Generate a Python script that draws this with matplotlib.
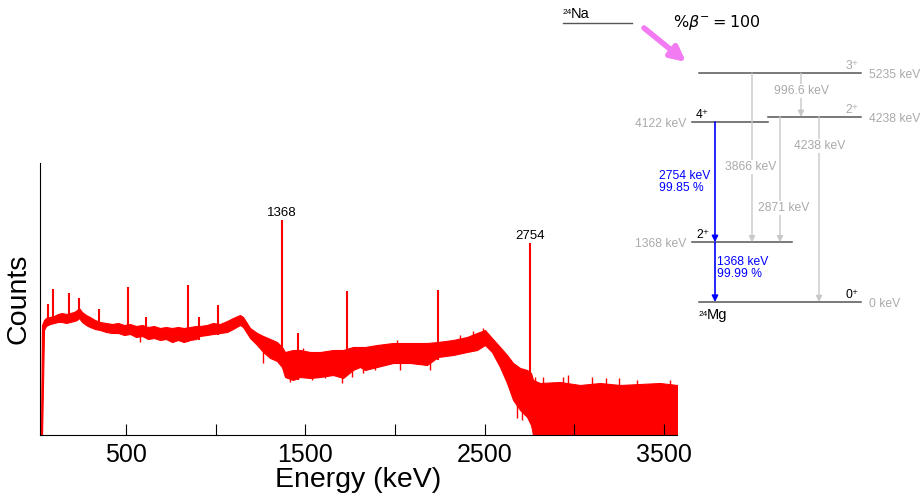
import matplotlib.pyplot as plt

plt.rcParams['font.family'] = ['Liberation Sans', 'DejaVu Sans']

# gamma spectrum of 24Na decay, counts in arbitrary units
# continuum band: energy (keV), upper and lower edge of the noisy band
cont_e = [26, 32, 43, 54, 76, 99, 121, 143, 166, 188, 211, 227, 238, 255,
          277, 299, 327, 355, 389, 423, 456, 490, 523, 556, 590, 623, 656,
          690, 723, 757, 790, 823, 857, 891, 912, 951, 985, 1024, 1064,
          1097, 1136, 1153, 1192, 1231, 1265, 1304, 1342, 1370, 1387, 1432,
          1471, 1527, 1583, 1655, 1711, 1766, 1805, 1833, 1900, 1990, 2085,
          2179, 2240, 2324, 2402, 2458, 2502, 2541, 2586, 2625, 2659, 2698,
          2737, 2759, 2770, 2809, 2921, 3032, 3144, 3255, 3367, 3478, 3573]
cont_hi = [0, 110, 115, 117, 118, 119, 121, 122, 121, 122, 123, 125, 127,
           123, 120, 118, 115, 113, 112, 111, 112, 110, 111, 109, 110, 108,
           109, 107, 108, 107, 108, 107, 108, 109, 109, 110, 112, 111, 114,
           117, 120, 118, 107, 102, 99, 96, 93, 88, 83, 85,
           85, 83, 83, 85, 85, 88, 88, 88, 90, 92, 92,
           92, 93, 95, 98, 102, 105, 97, 88, 80, 72, 67,
           65, 62, 55, 52, 53, 50, 52, 50, 51, 52, 50]
cont_lo = [0, 0, 105, 109, 111, 112, 113, 113, 112, 113, 114, 115, 117,
           113, 110, 108, 106, 105, 103, 102, 102, 100, 101, 98, 99, 96,
           97, 95, 96, 93, 95, 93, 95, 96, 99, 100, 101, 102, 103,
           106, 110, 108, 97, 90, 83, 77, 74, 68, 58, 55,
           58, 57, 58, 60, 57, 65, 68, 65, 68, 72, 72,
           70, 78, 80, 83, 85, 90, 83, 68, 52, 35, 25,
           18, 10, 0, 0, 0, 0, 0, 0, 0, 0, 0]

# short noise spikes sticking out of the band: energy, low and high end
noise_e = [579, 762, 818, 1264, 1415, 1538, 1610, 1705, 1761, 1822, 1888,
           2028, 2195, 2681, 2709, 2726, 1487, 2012, 2363, 2435, 2491, 2781,
           2826, 2937, 2965, 3099, 3177, 3250, 3350, 3534]
noise_lo = [93, 93, 93, 72, 53, 55, 57, 52, 58, 62, 65,
            65, 65, 17, 15, 20, 75, 80, 85, 90, 95, 40,
            40, 40, 40, 40, 40, 40, 40, 40]
noise_hi = [100, 100, 100, 90, 70, 70, 70, 70, 70, 75, 75,
            75, 75, 40, 40, 40, 87, 95, 100, 104, 107, 58,
            58, 58, 60, 58, 57, 57, 55, 55]

# single lines in the spectrum: energy, foot and top
peak_e = [67, 95, 184, 239, 351, 511, 612, 846, 908, 1013, 1368, 1459,
          1732, 2238, 2754]
peak_base = [112, 114, 113, 117, 110, 102, 100, 93, 95, 100, 70, 55,
             60, 75, 18]
peak_top = [131, 146, 142, 137, 126, 148, 118, 150, 118, 130, 215, 102,
            144, 145, 192]

label_e = [1368, 2754]
label_top = [215, 192]

xticks = [500, 1000, 1500, 2000, 2500, 3000, 3500]
xticklabels = ['500', '', '1500', '', '2500', '', '3500']

# decay scheme of 24Na -> 24Mg
lvl_e = [0, 1368, 4122, 4238, 5235]
lvl_spin = ['0⁺', '2⁺', '4⁺', '2⁺', '3⁺']
gamma_keV = ['996.6', '3866', '2871', '4238', '2754', '1368']
gamma_pct = ['99.85 %', '99.99 %']

W, H = 922, 499
fig = plt.figure(figsize=(W / 100, H / 100), dpi=100)

red = '#ff0000'
ax = fig.add_axes([40 / W, 1 - 435 / H, (677 - 40) / W, (435 - 163) / H])
ax.fill_between(cont_e, cont_lo, cont_hi, color=red, lw=0.8, edgecolor=red)
ax.vlines(noise_e, noise_lo, noise_hi, color=red, lw=1.0)
ax.vlines(peak_e, peak_base, peak_top, color=red, lw=1.5)
for e, t in zip(label_e, label_top):
    ax.text(e, t + 1, str(e), ha='center', va='bottom', fontsize=9.5)
ax.set_xlim(20.6, 3573)
ax.set_ylim(0, 272)
ax.set_xticks(xticks)
ax.set_xticklabels(xticklabels, fontsize=18)
ax.set_yticks([])
ax.tick_params(axis='x', direction='in', length=8, width=0.8, pad=6)
for s in ['top', 'right']:
    ax.spines[s].set_visible(False)
ax.set_xlabel('Energy (keV)', fontsize=20.5, labelpad=0)
ax.set_ylabel('Counts', fontsize=20.5, labelpad=6)

# overlay in pixel coordinates for the level scheme
ov = fig.add_axes([0, 0, 1, 1])
ov.set_xlim(0, W)
ov.set_ylim(H, 0)
ov.axis('off')


def ly(e):
    return 302 - e * 0.0437


gray_t = '#aaaaaa'
gray_l = '#555555'
gray_g = '#c8c8c8'
blue = '#0000ff'
fs = 8.7

# parent
ov.plot([563, 632], [23, 23], color=gray_l, lw=1)
ov.text(563, 16, '24', fontsize=6, va='bottom', ha='left')
ov.text(571, 21, 'Na', fontsize=10.5, va='bottom', ha='left')
ov.text(673, 22, r'$\%\beta^{-}=100$', fontsize=11.5, va='center',
        ha='left', family='DejaVu Sans')
ov.annotate('', xy=(686, 62), xytext=(644, 28),
            arrowprops=dict(arrowstyle='-|>', color='#f27af2', lw=4,
                            mutation_scale=22, shrinkA=0, shrinkB=0))

# levels: x extent of each line
lvl_x = [(699, 861), (692, 792), (692, 768), (768, 861), (699, 861)]
spin_col = ['black', 'black', 'black', gray_t, gray_t]
for i, e in enumerate(lvl_e):
    x0, x1 = lvl_x[i]
    y = ly(e)
    ov.plot([x0, x1], [y, y], color=gray_l, lw=1.1)
    if x1 >= 861:
        ov.text(x1 - 2, y - 1, lvl_spin[i], fontsize=fs, ha='right',
                va='bottom', color=spin_col[i])
        ov.text(869, y + 2, f'{e} keV', fontsize=fs, ha='left', va='center',
                color=gray_t)
    else:
        ov.text(x0 + 4, y - 1, lvl_spin[i], fontsize=fs, ha='left',
                va='bottom', color=spin_col[i])
        ov.text(x0 - 6, y + 2, f'{e} keV', fontsize=fs, ha='right',
                va='center', color=gray_t)

ov.text(699, 318, '24', fontsize=6, va='bottom', ha='left')
ov.text(707, 322, 'Mg', fontsize=10.5, va='bottom', ha='left')


def gamma(x, e0, e1, col, lw=1):
    ov.annotate('', xy=(x, ly(e1)), xytext=(x, ly(e0)),
                arrowprops=dict(arrowstyle='-|>', color=col, lw=lw,
                                mutation_scale=9, shrinkA=0, shrinkB=0),
                zorder=2)


# gray transitions with their labels on white boxes
gamma(801, 5235, 4238, gray_g)
gamma(752, 5235, 1368, gray_g)
gamma(780, 4238, 1368, gray_g)
gamma(819, 4238, 0, gray_g)
box = dict(facecolor='white', edgecolor='none', pad=1)
ov.text(801, 91, gamma_keV[0] + ' keV', fontsize=fs, ha='center',
        va='center', color=gray_t, bbox=box, zorder=3)
ov.text(751, 167, gamma_keV[1] + ' keV', fontsize=fs, ha='center',
        va='center', color=gray_t, bbox=box, zorder=3)
ov.text(784, 208, gamma_keV[2] + ' keV', fontsize=fs, ha='center',
        va='center', color=gray_t, bbox=box, zorder=3)
ov.text(820, 146, gamma_keV[3] + ' keV', fontsize=fs, ha='center',
        va='center', color=gray_t, bbox=box, zorder=3)

# blue cascade
gamma(715, 4122, 1368, blue, 1.2)
gamma(715, 1368, 0, blue, 1.2)
ov.text(659, 182, gamma_keV[4] + ' keV\n' + gamma_pct[0], fontsize=fs,
        ha='left', va='center', color=blue, linespacing=1.1)
ov.text(717, 268, gamma_keV[5] + ' keV\n' + gamma_pct[1], fontsize=fs,
        ha='left', va='center', color=blue, linespacing=1.1)

fig.savefig('out.png', dpi=100)
